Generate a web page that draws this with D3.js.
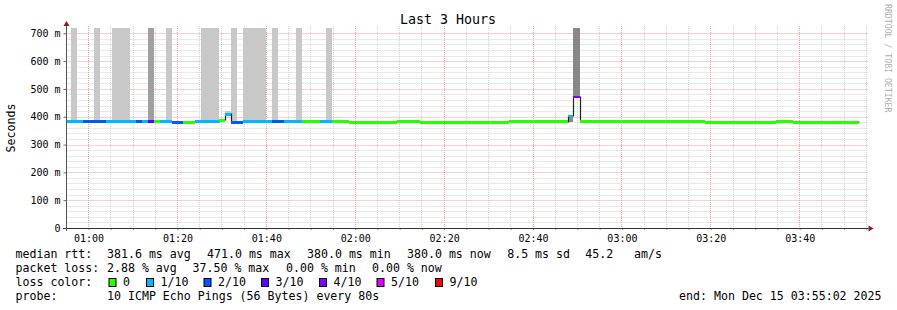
<!DOCTYPE html>
<html><head><meta charset="utf-8">
<script src="https://cdn.jsdelivr.net/npm/d3@7"></script>
<style>
body{margin:0;background:#fff}
svg{display:block}
text{font-family:"DejaVu Sans Mono",monospace}
</style>
</head><body>
<svg id="chart" width="897" height="310"></svg>
<script>
// ---------------- DATA ----------------
const chartTitle = "Last 3 Hours";
const yAxisTitle = "Seconds";
const watermark = "RRDTOOL / TOBI OETIKER";
const timeStart = "00:55:02";
const timeEnd = "03:55:02";
const xTickLabels = ["01:00","01:20","01:40","02:00","02:20","02:40","03:00","03:20","03:40"];
const yTicks = [0,100,200,300,400,500,600,700];   // milliseconds
const yMax = 719;

// median rtt segments (ms) coloured by loss class index
const segStart  = ["00:55:03","00:58:44","01:03:54","01:10:39","01:12:00","01:13:21","01:14:42","01:16:03","01:18:45","01:21:14",
                   "01:23:56","01:29:15","01:30:36","01:31:57","01:34:44","01:41:15","01:43:57","01:48:00","01:52:03","01:54:45",
                   "01:58:34","02:09:18","02:14:33","02:34:34","02:47:55","02:49:05","02:50:29","03:18:40","03:34:35","03:38:32"];
const segEnd    = ["00:58:44","01:03:54","01:10:39","01:12:00","01:13:21","01:14:42","01:16:03","01:18:45","01:21:14","01:23:56",
                   "01:29:15","01:30:36","01:31:57","01:34:44","01:41:15","01:43:57","01:48:00","01:52:03","01:54:45","01:58:34",
                   "02:09:18","02:14:33","02:34:34","02:47:55","02:49:05","02:50:29","03:18:40","03:34:35","03:38:32","03:53:19"];
const segMedian = [382,382,382,382,382,382,382,382,380,380,
                   382,387,409,380,382,382,382,382,382,382,
                   380,382,380,382,403,471,382,380,382,380];
const segLoss   = [1,2,1,2,1,3,0,1,2,0,
                   1,0,1,2,1,2,1,0,1,0,
                   0,0,0,0,1,4,0,0,0,0];

// smoke (spread of individual pings); depth = number of overlapping layers
const smokeStart = ["00:56:02","01:01:12","01:05:15","01:13:21","01:17:24","01:25:17","01:30:36","01:32:02","01:34:44","01:41:15","01:46:39","01:53:24","02:47:55","02:49:05"];
const smokeEnd   = ["00:57:23","01:02:33","01:09:18","01:14:42","01:18:45","01:29:20","01:31:57","01:33:23","01:39:54","01:42:36","01:48:00","01:54:45","02:49:05","02:50:29"];
const smokeLow   = [382,382,382,382,382,382,409,382,382,382,382,382,380,471];
const smokeHigh  = [719,719,719,719,719,719,421,719,719,719,719,719,403,719];
const smokeDepth = [1,1,1,2,1,1,1,1,1,1,1,1,3,3];

// legend
const lossLabels = ["0","1/10","2/10","3/10","4/10","5/10","9/10"];
const rttStats   = ["381.6 ms avg","471.0 ms max","380.0 ms min","380.0 ms now","8.5 ms sd","45.2   am/s"];
const lossStats  = ["2.88 % avg","37.50 % max","0.00 % min","0.00 % now"];
const probeText  = "10 ICMP Echo Pings (56 Bytes) every 80s";
const endText    = "end: Mon Dec 15 03:55:02 2025";

// ---------------- STYLES ----------------
const lossColors = ["#26ff00","#00b8ff","#0059ff","#5e00ff","#7e00ff","#dd00ff","#ff0000"];
const smokeColor = d3.scaleOrdinal().domain([1,2,3]).range(["#c8c8c8","#a0a0a0","#888888"]);

// ---------------- DRAW ----------------
const svg = d3.select("#chart");
const parseT = d3.timeParse("%H:%M:%S");
const t0 = parseT(timeStart), t1 = parseT(timeEnd);
const L = 66.5, R = 866.5, T = 28, B = 228;
const x = d3.scaleTime().domain([t0, t1]).range([L, R]);
const y = d3.scaleLinear().domain([0, yMax]).range([B, T]).clamp(true);

const g = svg.append("g");

// grid
const minorTimes = d3.timeMinute.every(5).range(t0, d3.timeSecond.offset(t1, 1)).filter(d => x(d) > L + 1);
const majorTimes = xTickLabels.map(s => parseT(s + ":00"));
const isMajorT = d => d.getMinutes() % 20 === 0;
g.append("g").selectAll("line").data(minorTimes.filter(d => !isMajorT(d))).join("line")
  .attr("x1", d => Math.floor(x(d)) + 0.5).attr("x2", d => Math.floor(x(d)) + 0.5)
  .attr("y1", T - 2).attr("y2", B)
  .attr("stroke", "#d2d2d2").attr("stroke-dasharray", "1,1");
const minorY = d3.range(20, yMax, 20).filter(v => v % 100 !== 0);
g.append("g").selectAll("line").data(minorY).join("line")
  .attr("x1", L).attr("x2", R + 1)
  .attr("y1", d => Math.round(y(d)) + 0.5).attr("y2", d => Math.round(y(d)) + 0.5)
  .attr("stroke", "#d2d2d2").attr("stroke-dasharray", "1,1");
g.append("g").selectAll("line").data(majorTimes).join("line")
  .attr("x1", d => Math.floor(x(d)) + 0.5).attr("x2", d => Math.floor(x(d)) + 0.5)
  .attr("y1", T - 2).attr("y2", B)
  .attr("stroke", "#f29e9e").attr("stroke-dasharray", "1,1");
g.append("g").selectAll("line").data(yTicks.filter(v => v > 0)).join("line")
  .attr("x1", L).attr("x2", R + 1)
  .attr("y1", d => Math.round(y(d)) + 0.5).attr("y2", d => Math.round(y(d)) + 0.5)
  .attr("stroke", "#f29e9e").attr("stroke-dasharray", "1,1");

// smoke
g.append("g").selectAll("rect").data(smokeStart).join("rect")
  .attr("x", (d, i) => x(parseT(d)))
  .attr("width", (d, i) => x(parseT(smokeEnd[i])) - x(parseT(d)))
  .attr("y", (d, i) => y(smokeHigh[i]))
  .attr("height", (d, i) => y(smokeLow[i]) - y(smokeHigh[i]))
  .attr("fill", (d, i) => smokeColor(smokeDepth[i]))
  .attr("shape-rendering", "crispEdges");

// median black step line
const pts = [];
segStart.forEach((s, i) => { pts.push([parseT(s), segMedian[i]]); pts.push([parseT(segEnd[i]), segMedian[i]]); });
g.append("path").attr("d", d3.line().x(d => Math.round(x(d[0])) + 0.5).y(d => Math.round(y(d[1])))(pts))
  .attr("fill", "none").attr("stroke", "#202020").attr("stroke-width", 1.2);

// loss coloured median boxes
g.append("g").selectAll("rect").data(segStart).join("rect")
  .attr("x", (d, i) => x(parseT(d)))
  .attr("width", (d, i) => x(parseT(segEnd[i])) - x(parseT(d)))
  .attr("y", (d, i) => y(segMedian[i]) - 1.3)
  .attr("height", 2.6)
  .attr("fill", (d, i) => lossColors[segLoss[i]])
  .attr("shape-rendering", "crispEdges");

// axes
const xAxis = d3.axisBottom(x).tickValues(majorTimes).tickFormat(d3.timeFormat("%H:%M")).tickSize(2).tickPadding(5);
const ax = svg.append("g").attr("transform", `translate(0,${B})`).call(xAxis);
ax.select(".domain").remove();
ax.selectAll(".tick line").attr("stroke", "#e06060");
ax.selectAll("text").attr("font-family", "DejaVu Sans Mono").attr("font-size", 10).attr("fill", "#000");
const xMinorAxis = d3.axisBottom(x).tickValues(minorTimes.filter(d => !isMajorT(d))).tickFormat("").tickSize(2);
const axm = svg.append("g").attr("transform", `translate(0,${B})`).call(xMinorAxis);
axm.select(".domain").remove();
axm.selectAll(".tick line").attr("stroke", "#999");

const yAxis = d3.axisLeft(y).tickValues(yTicks).tickFormat(d => d === 0 ? "0" : d + " m").tickSize(3).tickPadding(3);
const ay = svg.append("g").attr("transform", `translate(${L},0)`).call(yAxis);
ay.select(".domain").remove();
ay.selectAll(".tick line").attr("stroke", "#666");
ay.selectAll("text").attr("font-family", "DejaVu Sans Mono").attr("font-size", 10).attr("fill", "#000");

// axis lines + arrows
svg.append("line").attr("x1", 63).attr("x2", R + 2).attr("y1", B + 0.5).attr("y2", B + 0.5).attr("stroke", "#333");
svg.append("line").attr("x1", Math.floor(L) + 0.5).attr("x2", Math.floor(L) + 0.5).attr("y1", B + 3).attr("y2", T - 3).attr("stroke", "#555");
svg.append("path").attr("d", `M${Math.floor(L)+0.5},${T-7} L${Math.floor(L)-2.5},${T-2} L${Math.floor(L)+3.5},${T-2} Z`).attr("fill", "#8c1c1c");
svg.append("path").attr("d", `M${R+7},${B+0.5} L${R+2},${B-2.5} L${R+2},${B+3.5} Z`).attr("fill", "#8c1c1c");

// title etc.
svg.append("text").attr("x", 448).attr("y", 24).attr("text-anchor", "middle").attr("font-size", 13.3).text(chartTitle);
svg.append("text").attr("transform", "translate(15,128) rotate(-90)").attr("text-anchor", "middle").attr("font-size", 11.6).text(yAxisTitle);
svg.append("text").attr("transform", "translate(885,4) rotate(90)").attr("font-size", 8.2).attr("fill", "#b0b0b0").text(watermark);

// legend
const lg = svg.append("g").attr("font-size", 11.6).attr("fill", "#000").attr("xml:space", "preserve");
const rowY = [258, 272, 286, 300];
const rttX = [107, 207, 307, 407, 507.2, 585.2];
const lossX = [107, 192.5, 286, 372];
lg.append("text").attr("x", 15.5).attr("y", rowY[0]).text("median rtt:");
rttStats.forEach((s, i) => lg.append("text").attr("x", rttX[i]).attr("y", rowY[0]).style("white-space", "pre").text(s));
lg.append("text").attr("x", 15.5).attr("y", rowY[1]).text("packet loss:");
lossStats.forEach((s, i) => lg.append("text").attr("x", lossX[i]).attr("y", rowY[1]).text(s));
lg.append("text").attr("x", 15.5).attr("y", rowY[2]).text("loss color:");
const sqX = [108.5, 146, 203.5, 261, 319, 376.5, 435];
lossLabels.forEach((s, i) => {
  lg.append("rect").attr("x", sqX[i] + 0.5).attr("y", 278.5).attr("width", 7).attr("height", 8)
    .attr("fill", lossColors[i]).attr("stroke", "#000").attr("stroke-width", 1);
  lg.append("text").attr("x", sqX[i] + 14.5).attr("y", rowY[2]).text(s);
});
lg.append("text").attr("x", 15.5).attr("y", rowY[3]).text("probe:");
lg.append("text").attr("x", 107).attr("y", rowY[3]).text(probeText);
lg.append("text").attr("x", 881.5).attr("y", rowY[3]).attr("text-anchor", "end").text(endText);
</script>
</body></html>
